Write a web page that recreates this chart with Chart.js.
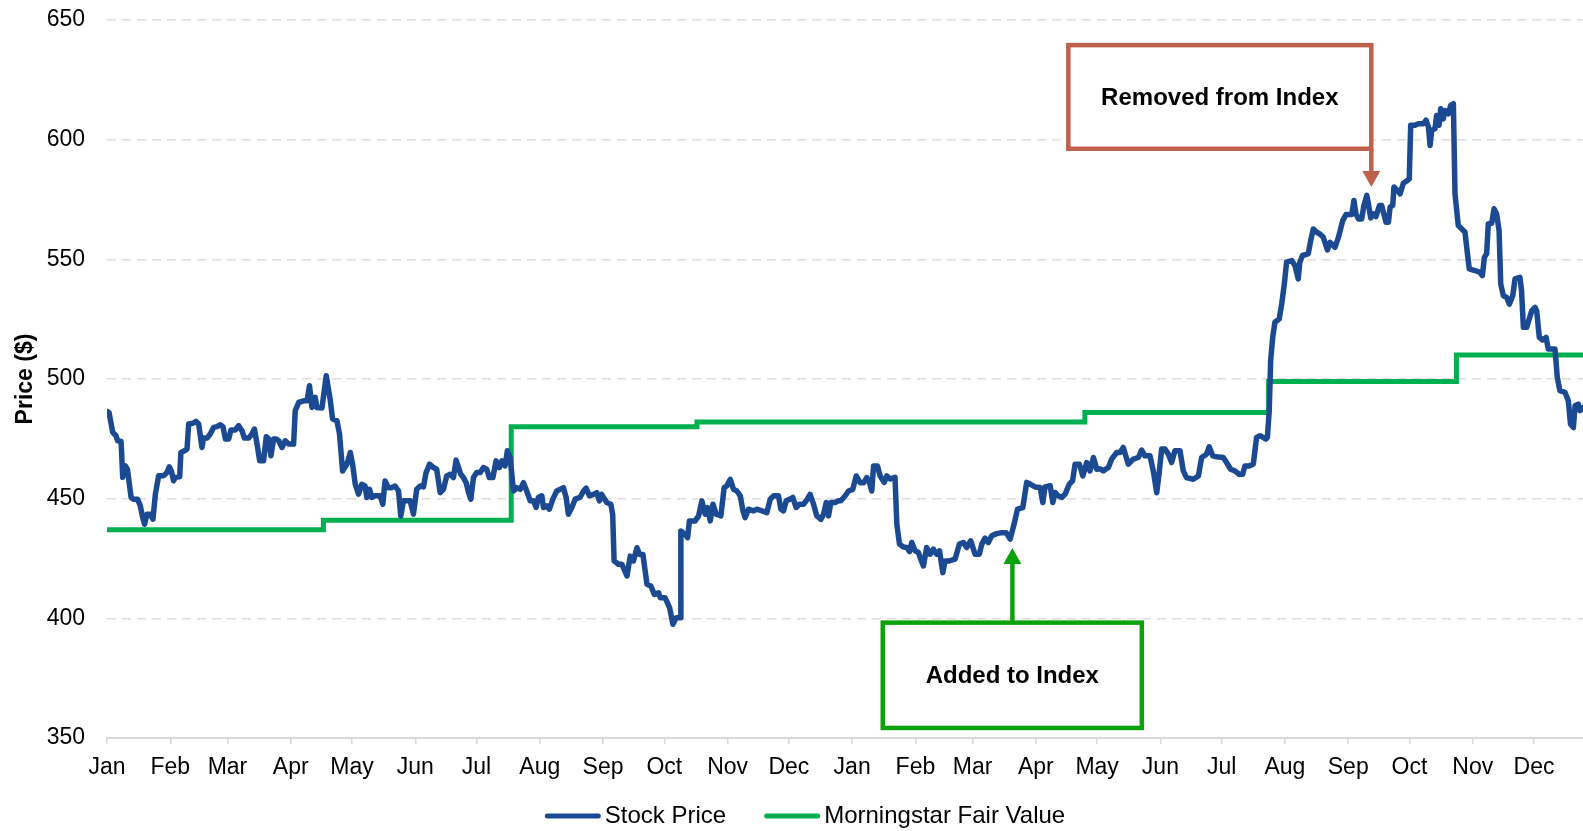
<!DOCTYPE html>
<html>
<head>
<meta charset="utf-8">
<title>Stock Price vs Morningstar Fair Value</title>
<script src="https://cdn.jsdelivr.net/npm/chart.js@4.4.1/dist/chart.umd.min.js"></script>
<style>
  html, body { margin: 0; padding: 0; background: #fff; }
  #wrap { width: 1583px; height: 831px; position: relative; }
</style>
</head>
<body>
<div id="wrap"><canvas id="chart"></canvas></div>
<script>
// month ticks (two years, non-leap)
const monthLabels = ['Jan', 'Feb', 'Mar', 'Apr', 'May', 'Jun', 'Jul', 'Aug', 'Sep', 'Oct', 'Nov', 'Dec',
                     'Jan', 'Feb', 'Mar', 'Apr', 'May', 'Jun', 'Jul', 'Aug', 'Sep', 'Oct', 'Nov', 'Dec'];
const monthLengths = [31, 28, 31, 30, 31, 30, 31, 31, 30, 31, 30, 31,
                      31, 28, 31, 30, 31, 30, 31, 31, 30, 31, 30, 31];
const lastDay = 723;

// stock price, day offset from first Jan
const stockDays = [
  0, 1, 2.8, 4.4, 5.2, 6.9, 7.7, 9, 10, 11.8, 13, 15, 16.3, 17.5, 18.4, 19.6, 21.2, 22.5, 23.7, 25.3,
  27.8, 29.4, 30.5, 31.5, 32.6, 33.5, 35.6, 36.2, 37.9, 39.2, 40, 42.1, 43.6, 44.9, 46.5, 47.3, 49, 50.6, 52.2, 53.9,
  55.5, 56.8, 58, 59.6, 60.7, 62.8, 64.5, 66.1, 67.3, 69.4, 71, 72.2, 73.5, 74.8, 76.7, 78, 79.2, 80.3, 81.6, 82.9,
  84.1, 85.7, 87.3, 89, 91.4, 92.2, 93.9, 96.3, 98, 99.2, 100.4, 102, 102.8, 105.3, 107.4, 109.4, 110.5, 112.6, 113.9, 115.4,
  117.5, 119.2, 120.3, 121.6, 123.2, 124.8, 126.4, 127.3, 128.6, 129.7, 131.3, 133.8, 135.1, 136.2, 137.9, 139.5, 141.1, 142.8, 143.9, 145.2,
  147.2, 148.5, 150.1, 151.7, 153.4, 155, 156.3, 158, 159.9, 161.5, 163.2, 164.8, 166.4, 168.1, 169.7, 171, 172.2, 173.3, 174.6, 175.9,
  177.1, 178.2, 179.5, 181.1, 182.8, 184.4, 186, 187.3, 189, 190.6, 192.2, 193.4, 195, 196.1, 197.5, 199.1, 200.7, 202.4, 204, 205.6,
  207.3, 208.9, 210.2, 211.3, 213, 213.8, 215.4, 216.7, 218.4, 220.3, 222, 223.6, 224.9, 226, 227.7, 229.3, 231.7, 233.4, 234.7, 236.3,
  238.3, 239.9, 241.2, 242.3, 244.8, 246.8, 247.7, 248.4, 250.5, 252.2, 254.7, 256.3, 257.9, 259.6, 260.9, 262.5, 264.5, 266.4, 268.1, 270.2,
  271, 273.4, 275.6, 277.2, 278.8, 280.8, 281.1, 283.2, 284.4, 285.3, 288.1, 289.8, 291.4, 293, 294.2, 295.5, 296.8, 298.4, 300.7, 302.3,
  303.6, 305.3, 306.9, 308.5, 310.2, 311.5, 312.6, 314.2, 316.7, 318.3, 320.8, 323.2, 324.9, 326.5, 328.9, 330.1, 331.4, 332.7, 334.6, 335.9,
  337.6, 339.2, 341.2, 342.5, 344.4, 346.1, 347.7, 349.7, 351, 352.3, 353.4, 354.6, 356.7, 358.3, 359.5, 361.6, 363.2, 365.3, 367, 368.9,
  370.6, 372.2, 373.5, 374.6, 375.5, 377.4, 378.7, 380.7, 382, 383.6, 386, 386.9, 388.2, 390.1, 391.8, 393.1, 394.2, 395.8, 397.5, 398.3,
  399.9, 401.5, 403.2, 404.8, 406.4, 407.8, 409.4, 410.5, 412.6, 415.4, 417.5, 419.5, 421.1, 423.1, 425.2, 427.3, 428.5, 430.1, 431.7, 433.4,
  435.8, 438.3, 440.4, 442.4, 444.3, 446, 448.6, 450.5, 452.2, 454.6, 457.1, 458.4, 459.5, 462, 463.3, 464.4, 466, 467.7, 469.3, 471.4,
  473, 474.2, 476.3, 478, 479.9, 481.5, 483.2, 484.8, 486.4, 488, 490.5, 492.1, 494.6, 496.2, 497.8, 500.3, 502.7, 505.2, 506.8, 508.4,
  510.9, 512.5, 514.2, 515.5, 516.6, 518.2, 519.9, 521.5, 523.1, 525.6, 527.2, 528.8, 532.1, 534.6, 536.2, 538.6, 539.9, 541.6, 543.5, 546.8,
  548.4, 550.4, 552.5, 554.6, 556.3, 557.4, 559.5, 561.5, 563.1, 564.8, 567.7, 568.4, 569.3, 570, 571, 572.1, 574.2, 575.4, 576.7, 577.8,
  580.3, 581.9, 583.5, 584.3, 585.6, 588.4, 589.6, 590.9, 592.5, 594.1, 595.8, 597.8, 599.1, 601.5, 603.2, 605.3, 606.9, 609.7, 610.8, 611.8,
  613, 614.6, 615.7, 617.1, 617.9, 619, 620.3, 621.6, 623.3, 624.4, 625.2, 626.5, 627.7, 628.5, 629.8, 630.4, 632.1, 633.4, 635, 636.6,
  637.9, 638.6, 640.7, 642.4, 644.8, 646.1, 647.3, 648.1, 648.9, 650.5, 651.3, 652.5, 653.3, 654.6, 655.4, 657, 658.2, 659.5, 660.3, 661.9,
  663.6, 665.2, 666.4, 667.3, 670.1, 672.5, 673.7, 674.7, 675.8, 676.6, 678.3, 679.4, 680.7, 681.9, 682.7, 684, 685.6, 686.9, 688.6, 689.7,
  692.1, 692.9, 693.8, 695.4, 696.7, 697.9, 699.5, 700.3, 701.6, 703.2, 704.9, 706, 709.3, 710.4, 711.7, 714.2, 715.8, 716.9, 718.3, 719.1,
  720.7, 721.5, 723
];
const stockPrices = [
  486.5, 486, 477.7, 476.3, 474.2, 473.9, 458.9, 463.7, 462.3, 450.5, 449.8, 449.8, 447, 442.1, 439.3, 443.5, 443.5, 441.4, 451.9, 459.6,
  459.6, 461, 463.3, 461.6, 457.5, 458.9, 459.1, 469.3, 470, 470.7, 481.2, 481.5, 482.3, 481.2, 471.4, 475.3, 475.3, 477, 479.8, 480.1,
  480.9, 480.1, 474.9, 474.9, 478.7, 478.7, 480.5, 478.4, 475.3, 475.3, 477, 479.1, 472.8, 465.8, 465.8, 475.9, 474.9, 467.9, 474.9, 474.9,
  474.2, 471.4, 474.2, 472.8, 472.8, 486.8, 490.2, 490.9, 490.9, 497.2, 488.1, 492.3, 488.1, 487.9, 501.4, 490.9, 483.3, 482.6, 477, 461.6,
  464.4, 469.3, 464.4, 456.1, 451.9, 456, 455.3, 450.5, 453.9, 450.5, 451.2, 451.2, 447.7, 457.4, 454.6, 454.6, 455.3, 453.2, 442.8, 449.1,
  449.1, 449.1, 443.5, 453.9, 455.3, 454.9, 460.9, 464.4, 463, 462.3, 452.5, 453.9, 459.5, 460.2, 458.8, 466.1, 463, 460.2, 458.8, 456.7,
  452.5, 449.8, 458.8, 460.9, 460.9, 463, 462.3, 458.8, 458.8, 465.8, 463, 465.8, 463.7, 470, 467.2, 453.2, 454.6, 453.9, 456.7, 453.2,
  449.1, 449.1, 446.3, 450.5, 451.2, 446.3, 447, 445.6, 449.8, 453.2, 453.9, 454.6, 450.5, 443.5, 446.3, 449.8, 450.5, 453.2, 454.4, 451.2,
  451.8, 452.5, 449.1, 451.8, 448.4, 447.7, 443.5, 424, 422.6, 422.6, 417.7, 426, 424, 429.5, 426.7, 426.7, 414.2, 413.5, 410, 410.7,
  408.6, 408.6, 404.4, 397.5, 400.2, 400.2, 436.5, 435.1, 433.7, 440.7, 440.7, 442.8, 449.1, 443.5, 446.3, 440.7, 447.7, 443.5, 442.8, 454.6,
  455.3, 458.1, 453.9, 453.2, 451.2, 444.9, 442.1, 445.6, 444.9, 445.6, 444.9, 444.2, 449.8, 451.2, 451.2, 445.6, 444.9, 449.1, 449.8, 450.5,
  446.3, 447.7, 447.7, 449.1, 451.8, 447.7, 442.8, 441.4, 443.5, 448.4, 442.8, 448.4, 448.4, 449.1, 449.1, 451.2, 453.2, 453.9, 459.5, 456.7,
  456.7, 458.8, 456.7, 453.2, 463.7, 463.7, 459.5, 456.8, 459.5, 458.2, 458.9, 439.3, 431, 429.8, 429.6, 427.9, 431.7, 428.2, 427.5, 425.4,
  421.9, 429.6, 426.8, 428.9, 426.8, 428.2, 419.1, 424, 424, 424.7, 431, 431.7, 429.6, 432.4, 426.8, 426.8, 431, 433.5, 431.7, 434.5,
  435.4, 435.8, 435.8, 433.1, 439.3, 445.6, 446.3, 456.8, 456.1, 454.9, 454.7, 448.4, 454.9, 455.4, 448.4, 452.6, 451.2, 450.5, 451.9, 456.1,
  457.5, 464.4, 464.4, 459.5, 465.1, 461.6, 467.2, 462.3, 462.5, 461.6, 463, 466.5, 469.3, 469.3, 471.4, 464.4, 466.5, 467.2, 470.3, 467.9,
  467.9, 461.6, 452.5, 461.6, 470.7, 470.7, 468.6, 465.1, 470, 470, 461.6, 458.8, 458.1, 459.5, 467.2, 468.6, 471.7, 467.9, 467.5, 467.2,
  465.1, 462.3, 461.6, 460.2, 460.2, 463.7, 463.7, 464.4, 475.6, 476.3, 474.9, 475.6, 486.7, 507.6, 517.4, 523.7, 525.1, 531.3, 539.7, 548.8,
  549.5, 547.4, 541.8, 548.8, 551.6, 552.3, 557.8, 562.7, 561.3, 560.6, 559.2, 553.9, 557.1, 555, 559.2, 566.2, 568.7, 568.7, 574.6, 569,
  566.9, 566.9, 572.5, 576.7, 573.2, 567.3, 569, 567.9, 572.5, 572.5, 569.7, 565.5, 565.5, 571.8, 572.5, 580.2, 578.8, 577.4, 581.8, 582.7,
  583.6, 606, 606, 606.7, 606.7, 608.1, 605.3, 597.6, 603.9, 604.6, 610.1, 606, 612.9, 608.7, 612.2, 610.8, 614.3, 615, 577.4, 564.1,
  562.7, 561.3, 552.3, 546, 545.3, 544.6, 543.2, 550.9, 552.3, 564.8, 565.1, 571.1, 569, 562, 539.7, 534.8, 534.1, 531.3, 534.8, 541.8,
  542.5, 536.9, 521.6, 521.6, 525.1, 528.5, 529.9, 528.5, 517.4, 516.3, 517.4, 512.5, 512.5, 500.7, 495.1, 494.4, 490.9, 481.1, 479.7, 488.8,
  489.5, 486.8, 488.1
];

// fair value, changes on these days
const fairDays = [0, 106, 198, 289, 479, 569, 661, 723];
const fairValues = [437, 441, 480, 482, 486, 499, 510, 510];

// annotation boxes in data units (days / $)
const notes = [
  { text: 'Removed from Index', color: '#C0614E', x0: 470.9, x1: 619.3, yTop: 639.5, yBottom: 596.2,
    arrowX: 619.3, arrowTip: 580.2 },
  { text: 'Added to Index', color: '#0CA20C', x0: 380, x1: 506.9, yTop: 398.2, yBottom: 354.2,
    arrowX: 443.5, arrowTip: 429.4 }
];

const monthStarts = [0];
for (let i = 0; i < monthLengths.length - 1; i++) {
    monthStarts.push(monthStarts[i] + monthLengths[i]);
}

Chart.defaults.font.family = '"Liberation Sans", Arial, sans-serif';
Chart.defaults.color = '#000';

// boxes + arrows drawn on top of the lines
const notesPlugin = {
    id: 'notes',
    afterDatasetsDraw(chart) {
        const ctx = chart.ctx;
        const x = chart.scales.x, y = chart.scales.y;
        notes.forEach(n => {
            const left = x.getPixelForValue(n.x0);
            const right = x.getPixelForValue(n.x1);
            const top = y.getPixelForValue(n.yTop);
            const bottom = y.getPixelForValue(n.yBottom);
            const ax = x.getPixelForValue(n.arrowX);
            const tip = y.getPixelForValue(n.arrowTip);
            ctx.save();
            ctx.fillStyle = '#fff';
            ctx.fillRect(left, top, right - left, bottom - top);
            ctx.strokeStyle = n.color;
            ctx.fillStyle = n.color;
            ctx.lineWidth = 4.5;
            ctx.strokeRect(left, top, right - left, bottom - top);
            // arrow stem from the box edge nearest the tip
            const start = tip > bottom ? bottom : top;
            const dir = tip > start ? 1 : -1;
            const headLen = 16;
            ctx.beginPath();
            ctx.moveTo(ax, start);
            ctx.lineTo(ax, tip - dir * headLen);
            ctx.stroke();
            ctx.beginPath();
            ctx.moveTo(ax, tip);
            ctx.lineTo(ax - 9, tip - dir * headLen);
            ctx.lineTo(ax + 9, tip - dir * headLen);
            ctx.closePath();
            ctx.fill();
            ctx.fillStyle = '#000';
            ctx.font = 'bold 24px "Liberation Sans", Arial, sans-serif';
            ctx.textAlign = 'center';
            ctx.textBaseline = 'middle';
            ctx.fillText(n.text, (left + right) / 2, (top + bottom) / 2 + 1);
            ctx.restore();
        });
    }
};

// legend at the bottom, line swatch right next to the text
const legendPlugin = {
    id: 'lineLegend',
    afterDraw(chart) {
        const ctx = chart.ctx;
        const items = chart.data.datasets;
        ctx.save();
        ctx.font = '24px "Liberation Sans", Arial, sans-serif';
        const swatch = 56, gap = 4, spacing = 38;
        let total = 0;
        items.forEach((ds, i) => {
            total += swatch + gap + ctx.measureText(ds.label).width + (i > 0 ? spacing : 0);
        });
        let cx = 805 - total / 2;
        const ly = 816;
        items.forEach(ds => {
            ctx.strokeStyle = ds.borderColor;
            ctx.lineWidth = 5;
            ctx.lineCap = 'round';
            ctx.beginPath();
            ctx.moveTo(cx + 2.5, ly);
            ctx.lineTo(cx + swatch - 2.5, ly);
            ctx.stroke();
            ctx.fillStyle = '#000';
            ctx.textAlign = 'left';
            ctx.textBaseline = 'middle';
            ctx.fillText(ds.label, cx + swatch + gap, ly);
            cx += swatch + gap + ctx.measureText(ds.label).width + spacing;
        });
        ctx.restore();
    }
};

const ctx = document.getElementById('chart').getContext('2d');
new Chart(ctx, {
    type: 'line',
    data: {
        datasets: [
            {
                label: 'Stock Price',
                data: stockDays.map((d, i) => ({ x: d, y: stockPrices[i] })),
                borderColor: '#1B4A93',
                borderWidth: 5.5,
                borderJoinStyle: 'round',
                borderCapStyle: 'round',
                pointRadius: 0,
                tension: 0,
                order: 1
            },
            {
                label: 'Morningstar Fair Value',
                data: fairDays.map((d, i) => ({ x: d, y: fairValues[i] })),
                borderColor: '#00B050',
                borderWidth: 5,
                stepped: 'before',
                pointRadius: 0,
                order: 2
            }
        ]
    },
    options: {
        responsive: true,
        maintainAspectRatio: false,
        animation: false,
        layout: { padding: { top: 20, right: 0, bottom: 0, left: 0 } },
        plugins: {
            legend: { display: false },
            tooltip: { enabled: false }
        },
        scales: {
            x: {
                type: 'linear',
                min: 0,
                max: lastDay,
                afterBuildTicks: scale => {
                    scale.ticks = monthStarts.map(v => ({ value: v }));
                },
                afterFit: scale => { scale.height = 93; },
                ticks: {
                    autoSkip: false,
                    maxRotation: 0,
                    padding: 10,
                    font: { size: 23 },
                    callback: (value, index) => monthLabels[index]
                },
                grid: {
                    drawOnChartArea: false,
                    drawTicks: true,
                    tickLength: 6,
                    color: '#d9d9d9',
                    lineWidth: 1.5
                },
                border: { color: '#d9d9d9', width: 2 }
            },
            y: {
                min: 350,
                max: 650,
                afterFit: scale => {
                    scale.width = 107;
                    // tick padding is only meant horizontally here
                    scale.paddingTop = 0;
                    scale.paddingBottom = 0;
                },
                ticks: {
                    stepSize: 50,
                    padding: 22,
                    font: { size: 23 }
                },
                grid: {
                    color: '#dedede',
                    lineWidth: 1.5,
                    drawTicks: false
                },
                border: { display: false, dash: [9, 6] },
                title: {
                    display: true,
                    text: 'Price ($)',
                    font: { size: 23, weight: 'bold' },
                    padding: { top: 12, bottom: 0 }
                }
            }
        }
    },
    plugins: [notesPlugin, legendPlugin]
});
</script>
</body>
</html>
